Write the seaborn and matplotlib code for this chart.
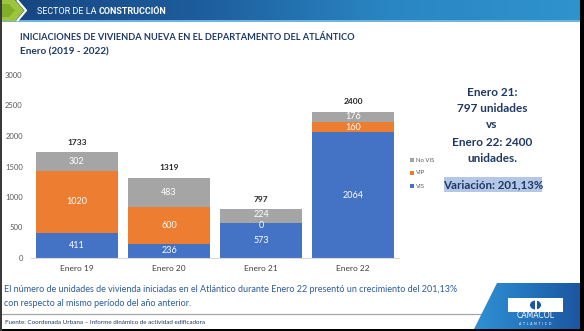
import numpy as np
import pandas as pd
import matplotlib
matplotlib.use("Agg")
import matplotlib.pyplot as plt
from matplotlib.patches import Polygon, Rectangle, Ellipse
from matplotlib.colors import LinearSegmentedColormap
import seaborn as sns

# Data: housing starts in Atlántico, January of each year
meses = ["Enero 19", "Enero 20", "Enero 21", "Enero 22"]
vis = [411, 236, 573, 2064]
vip = [1020, 600, 0, 160]
no_vis = [302, 483, 224, 176]
yticks = [0, 500, 1000, 1500, 2000, 2500, 3000]

sns.set_theme(style="white")
plt.rcParams["font.family"] = ["Lato", "DejaVu Sans"]

W, H = 584, 331
fig = plt.figure(figsize=(W / 100, H / 100), dpi=100)
fig.patch.set_facecolor("white")

# Background layer in pixel coordinates
bg = fig.add_axes([0, 0, 1, 1], zorder=0)
bg.set_xlim(0, W)
bg.set_ylim(H, 0)
bg.axis("off")

# Header band with a horizontal blue gradient
grad = np.linspace(0, 1, 256)[None, :]
hdr_cmap = LinearSegmentedColormap.from_list("hdr", ["#17457f", "#1d5c9c", "#2a86c2", "#2f93cc"])
bg.imshow(grad, extent=[0, W, 21, 0], cmap=hdr_cmap, aspect="auto", zorder=1)
bg.add_patch(Rectangle((0, 20), W, 1.5, color="#6fb3df", zorder=2, lw=0))

# Green chevron
bg.add_patch(Polygon([(0, 0), (15, 0), (24, 10.5), (15, 21), (0, 21)], closed=True,
                     color="#9dc43c", lw=0, zorder=3))
bg.add_patch(Polygon([(0, 4), (9, 4), (15, 10.5), (9, 17), (0, 17)], closed=True,
                     color="#7fae2a", lw=0, zorder=3))
bg.plot([17, 26, 17], [0, 10.5, 21], color="white", lw=1.6, zorder=4, solid_capstyle="butt")

t1 = bg.text(37, 11, "SECTOR DE LA ", color="white", fontsize=6.5, family=["Roboto", "DejaVu Sans"],
             va="center", ha="left", zorder=5)
fig.canvas.draw()
bb = t1.get_window_extent(renderer=fig.canvas.get_renderer())
bx = bg.transData.inverted().transform((bb.x1, 0))[0]
bg.text(bx, 11, "CONSTRUCCIÓN", color="white", fontsize=6.5, fontweight="bold",
        family=["Roboto", "DejaVu Sans"], va="center", ha="left", zorder=5)

# Titles
navy = "#1f3a68"
bg.text(20, 37, "INICIACIONES DE VIVIENDA NUEVA EN EL DEPARTAMENTO DEL ATLÁNTICO",
        color=navy, fontsize=6.7, fontweight="bold", va="center", ha="left")
bg.text(20, 52, "Enero (2019 - 2022)", color=navy, fontsize=7.2, fontweight="bold",
        va="center", ha="left")

# Chart axes
ax = fig.add_axes([31 / W, (H - 258) / H, 368 / W, 183 / H], zorder=2)
ax.set_facecolor("none")

df = pd.DataFrame({"mes": meses, "VIS": vis, "VIP": vip, "No VIS": no_vis})
df["vis_vip"] = df["VIS"] + df["VIP"]
df["total"] = df["vis_vip"] + df["No VIS"]

c_vis, c_vip, c_novis = "#4472c4", "#ed7d31", "#a5a5a5"
sns.barplot(data=df, x="mes", y="total", color=c_novis, width=0.9, saturation=1,
            linewidth=0, ax=ax)
sns.barplot(data=df, x="mes", y="vis_vip", color=c_vip, width=0.9, saturation=1,
            linewidth=0, ax=ax)
sns.barplot(data=df, x="mes", y="VIS", color=c_vis, width=0.9, saturation=1,
            linewidth=0, ax=ax)

ax.set_xlim(-0.5, 3.5)
ax.set_ylim(0, 3000)
ax.set_yticks(yticks)
ax.set_xlabel("")
ax.set_ylabel("")
for s in ["top", "right", "left"]:
    ax.spines[s].set_visible(False)
ax.spines["bottom"].set_color("#d9d9d9")
ax.spines["bottom"].set_linewidth(0.8)
ax.tick_params(axis="y", length=0, pad=6, labelsize=5.5, labelcolor="#595959")
ax.tick_params(axis="x", length=0, pad=5, labelsize=6, labelcolor="#404040")

# Segment and total labels
for i, row in df.iterrows():
    ax.text(i, row["VIS"] / 2, f"{row['VIS']}", color="white", fontsize=6.5,
            ha="center", va="center")
    vip_y = row["VIS"] + row["VIP"] / 2
    if row["VIP"] == 0:
        vip_y -= 45  # keep a zero label just under the stack boundary
    ax.text(i, vip_y, f"{row['VIP']}", color="white", fontsize=6.5,
            ha="center", va="center")
    ax.text(i, row["vis_vip"] + row["No VIS"] / 2 + (25 if row["VIP"] == 0 else 0),
            f"{row['No VIS']}", color="white", fontsize=6.5, ha="center", va="center")
    ax.text(i, row["total"] + 160, f"{row['total']}", color="#262626", fontsize=6,
            fontweight="bold", ha="center", va="center")

# Legend
for y, lab, col in [(160, "No VIS", c_novis), (173, "VIP", c_vip), (186, "VIS", c_vis)]:
    bg.add_patch(Rectangle((410, y - 2), 4, 4, color=col, lw=0, zorder=3))
    bg.text(416, y, lab, color="#595959", fontsize=4.3, va="center", ha="left", zorder=3)

# Comparison text on the right
for y, s in [(92, "Enero 21:"), (108, "797 unidades"), (125, "vs"),
             (142, "Enero 22: 2400"), (158, "unidades.")]:
    bg.text(492, y, s, color="#1f3864", fontsize=8.5, fontweight="bold",
            ha="center", va="center", zorder=3)
bg.add_patch(Rectangle((444, 177), 98, 15, color="#b4c7e7", lw=0, zorder=2))
bg.text(493, 184.5, "Variación: 201,13%", color="#1f3864", fontsize=8.3, fontweight="bold",
        ha="center", va="center", zorder=3)

# Footer text
blue_txt = "#2f5c9a"
bg.text(4, 289, "El número de unidades de vivienda iniciadas en el Atlántico durante Enero 22 "
        "presentó un crecimiento del 201,13%", color=blue_txt, fontsize=6.5,
        va="center", ha="left", zorder=3)
bg.text(4, 303, "con respecto al mismo período del año anterior.", color=blue_txt,
        fontsize=6.5, va="center", ha="left", zorder=3)
bg.plot([2, 492], [314, 314], color="#a6a6a6", lw=0.9, zorder=3)
bg.text(5, 323, "Fuente: Coordenada Urbana – Informe dinámico de actividad edificadora",
        color="#1f3864", fontsize=4.5, va="center", ha="left", zorder=3)

# Logo block
logo_cmap = LinearSegmentedColormap.from_list("logo", ["#2f92d4", "#2475bd", "#1c55a0"])
im = bg.imshow(grad, extent=[474, 580, 329, 283], cmap=logo_cmap, aspect="auto", zorder=3)
clip = Polygon([(497, 283), (580, 283), (580, 329), (474, 329)], closed=True,
               transform=bg.transData, facecolor="none", edgecolor="none")
bg.add_patch(clip)
im.set_clip_path(clip)
bg.add_patch(Rectangle((508, 298), 55, 14, color="white", lw=0, zorder=4))
bg.add_patch(Ellipse((535.5, 305), 11, 9, color="#1c55a0", lw=0, zorder=5))
bg.add_patch(Rectangle((534.5, 300), 2, 10, color="white", lw=0, zorder=6))
bg.text(535.5, 316, "CAMACOL", color="white", fontsize=5.6, ha="center", va="center",
        family=["DejaVu Sans"], zorder=6)
bg.text(535.5, 324, "A  T  L  A  N  T  I  C  O", color="white", fontsize=2.4,
        ha="center", va="center", zorder=6)

# Slide frame edges
bg.add_patch(Rectangle((579.5, 0), 5, H, color="black", lw=0, zorder=7))
bg.add_patch(Rectangle((0, 328.5), W, 3, color="black", lw=0, zorder=7))
bg.add_patch(Rectangle((0, 0), 1.5, H, color="#3a3a3a", lw=0, zorder=7))

fig.savefig("out.png", dpi=100, facecolor="white")
